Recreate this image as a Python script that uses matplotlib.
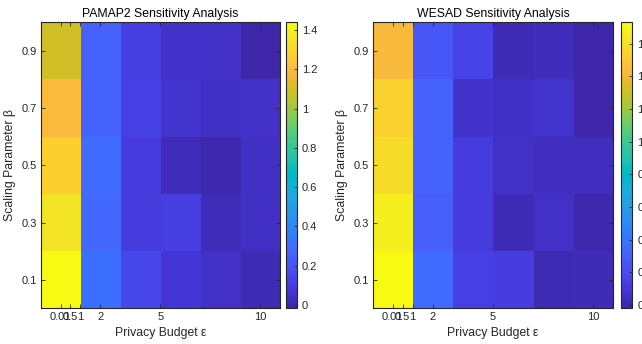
import numpy as np
import matplotlib
matplotlib.use("Agg")
import matplotlib.pyplot as plt
from matplotlib.colors import LinearSegmentedColormap

plt.rcParams['font.family'] = ['Liberation Sans', 'DejaVu Sans']

# ---- data ----
eps_ticks = [0.01, 0.5, 1, 2, 5, 10]
eps_tick_labels = ['0.01', '0.5', '1', '2', '5', '10']
beta_vals = [0.1, 0.3, 0.5, 0.7, 0.9]
beta_labels = ['0.1', '0.3', '0.5', '0.7', '0.9']

# rows: beta 0.1 -> 0.9 ; columns: the six epsilon settings
pamap2 = [
    [1.44, 0.31, 0.145, 0.075, 0.050, 0.006],
    [1.35, 0.28, 0.100, 0.110, 0.018, 0.040],
    [1.28, 0.30, 0.100, 0.018, -0.005, 0.040],
    [1.19, 0.265, 0.120, 0.060, 0.040, 0.050],
    [1.09, 0.26, 0.110, 0.053, 0.050, -0.017],
]
wesad = [
    [1.73, 0.355, 0.146, 0.130, 0.008, 0.015],
    [1.67, 0.29, 0.120, 0.020, 0.060, 0.000],
    [1.59, 0.31, 0.120, 0.060, 0.040, 0.040],
    [1.54, 0.31, 0.064, 0.050, 0.070, -0.010],
    [1.42, 0.26, 0.160, 0.020, 0.030, -0.020],
]
titles = ['PAMAP2 Sensitivity Analysis', 'WESAD Sensitivity Analysis']
cbar_ticks = [[0, 0.2, 0.4, 0.6, 0.8, 1.0, 1.2, 1.4],
              [0, 0.2, 0.4, 0.6, 0.8, 1.0, 1.2, 1.4, 1.6]]

parula_data = [
    (0.2422, 0.1504, 0.6603), (0.2504, 0.1650, 0.7076), (0.2578, 0.1818, 0.7511),
    (0.2647, 0.1978, 0.7952), (0.2706, 0.2147, 0.8364), (0.2751, 0.2342, 0.8710),
    (0.2783, 0.2559, 0.8991), (0.2803, 0.2782, 0.9221), (0.2813, 0.3006, 0.9414),
    (0.2810, 0.3228, 0.9579), (0.2795, 0.3447, 0.9717), (0.2760, 0.3667, 0.9829),
    (0.2699, 0.3892, 0.9906), (0.2602, 0.4123, 0.9952), (0.2440, 0.4358, 0.9988),
    (0.2206, 0.4603, 0.9973), (0.1963, 0.4847, 0.9892), (0.1834, 0.5074, 0.9798),
    (0.1786, 0.5289, 0.9682), (0.1764, 0.5499, 0.9520), (0.1687, 0.5703, 0.9359),
    (0.1540, 0.5902, 0.9218), (0.1460, 0.6091, 0.9079), (0.1380, 0.6276, 0.8973),
    (0.1248, 0.6459, 0.8883), (0.1113, 0.6635, 0.8763), (0.0952, 0.6798, 0.8598),
    (0.0689, 0.6948, 0.8394), (0.0297, 0.7082, 0.8163), (0.0036, 0.7203, 0.7917),
    (0.0067, 0.7312, 0.7660), (0.0433, 0.7411, 0.7394), (0.0964, 0.7500, 0.7120),
    (0.1408, 0.7584, 0.6842), (0.1717, 0.7670, 0.6554), (0.1938, 0.7758, 0.6251),
    (0.2161, 0.7843, 0.5923), (0.2470, 0.7918, 0.5567), (0.2906, 0.7973, 0.5188),
    (0.3406, 0.8008, 0.4789), (0.3909, 0.8029, 0.4354), (0.4456, 0.8024, 0.3909),
    (0.5044, 0.7993, 0.3480), (0.5616, 0.7942, 0.3045), (0.6174, 0.7876, 0.2612),
    (0.6720, 0.7793, 0.2227), (0.7242, 0.7698, 0.1910), (0.7738, 0.7598, 0.1646),
    (0.8203, 0.7498, 0.1535), (0.8634, 0.7406, 0.1596), (0.9035, 0.7330, 0.1774),
    (0.9393, 0.7288, 0.2100), (0.9728, 0.7298, 0.2394), (0.9956, 0.7434, 0.2371),
    (0.9970, 0.7659, 0.2199), (0.9952, 0.7893, 0.2028), (0.9892, 0.8136, 0.1885),
    (0.9786, 0.8386, 0.1766), (0.9676, 0.8639, 0.1643), (0.9610, 0.8890, 0.1537),
    (0.9597, 0.9135, 0.1423), (0.9628, 0.9373, 0.1265), (0.9691, 0.9606, 0.1064),
    (0.9769, 0.9839, 0.0805),
]
parula = LinearSegmentedColormap.from_list('parula', parula_data, N=256)

W, H = 642, 344
fig = plt.figure(figsize=(W / 100, H / 100), dpi=100)

axc = '#262626'
ax_rects = [(40.7, 22.3, 280.0, 308.3), (372.7, 22.3, 613.3, 308.3)]
cb_rects = [(286.0, 22.3, 296.5, 308.3), (621.0, 22.3, 632.0, 308.3)]

def frac(r):
    x0, y0, x1, y1 = r
    return [x0 / W, 1 - y1 / H, (x1 - x0) / W, (y1 - y0) / H]

for i, data in enumerate([pamap2, wesad]):
    Z = np.array(data)
    ax = fig.add_axes(frac(ax_rects[i]))
    # imagesc-style: columns evenly spaced between first and last epsilon
    ncol = Z.shape[1]
    xc = np.linspace(eps_ticks[0], eps_ticks[-1], ncol)
    dx = xc[1] - xc[0]
    dy = beta_vals[1] - beta_vals[0]
    im = ax.imshow(Z, cmap=parula, origin='lower', aspect='auto',
                   interpolation='nearest',
                   extent=[xc[0] - dx / 2, xc[-1] + dx / 2,
                           beta_vals[0] - dy / 2, beta_vals[-1] + dy / 2],
                   vmin=Z.min(), vmax=Z.max())
    ax.set_xticks(eps_ticks)
    ax.set_xticklabels(eps_tick_labels)
    ax.set_yticks(beta_vals)
    ax.set_yticklabels(beta_labels)
    ax.tick_params(direction='in', length=3, width=0.6, top=True, right=True,
                   labelsize=8, colors=axc, pad=3)
    for s in ax.spines.values():
        s.set_color(axc)
        s.set_linewidth(0.8)
    ax.set_title(titles[i], fontsize=8.8, color='black', pad=4)
    ax.set_xlabel('Privacy Budget ε', fontsize=8.8, color=axc, labelpad=3)
    ax.set_ylabel('Scaling Parameter β', fontsize=8.8, color=axc, labelpad=4)

    cax = fig.add_axes(frac(cb_rects[i]))
    cb = fig.colorbar(im, cax=cax, ticks=cbar_ticks[i])
    cb.set_ticklabels(['%g' % t for t in cbar_ticks[i]])
    cb.outline.set_edgecolor(axc)
    cb.outline.set_linewidth(0.8)
    cax.tick_params(direction='in', length=2.5, width=0.6, labelsize=8,
                    colors=axc, pad=4)

fig.savefig('out.png', dpi=100)
